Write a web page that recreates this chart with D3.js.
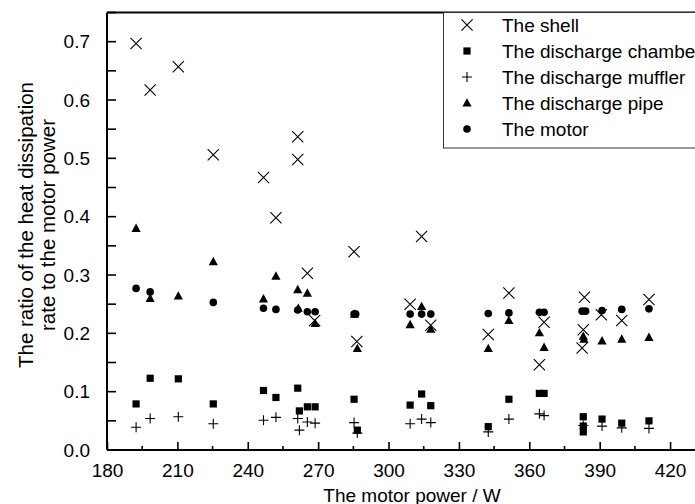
<!DOCTYPE html>
<html>
<head>
<meta charset="utf-8">
<script src="https://cdn.jsdelivr.net/npm/d3@7"></script>
<style>
  html, body { margin: 0; padding: 0; background: #fff; }
  svg { display: block; }
  text { font-family: "Liberation Sans", Arial, sans-serif; fill: #000; }
</style>
</head>
<body>
<svg id="chart" width="695" height="504"></svg>
<script>
// ---- data ----
const shellX = [192.4, 198.4, 210.4, 225.3, 246.7, 252.0, 261.3, 261.3, 265.4, 268.5, 285.3, 286.5, 309.2, 314.1, 318.0, 342.5, 351.3, 364.3, 366.3, 383.5, 383.0, 382.5, 390.7, 399.4, 411.0];
const shellY = [0.697, 0.617, 0.657, 0.506, 0.467, 0.398, 0.537, 0.498, 0.303, 0.222, 0.340, 0.186, 0.250, 0.366, 0.214, 0.198, 0.269, 0.146, 0.219, 0.262, 0.206, 0.175, 0.232, 0.222, 0.258];

const chamberX = [192.4, 198.4, 210.4, 225.3, 246.7, 252.0, 261.3, 262.0, 265.4, 268.7, 285.3, 286.7, 309.2, 314.1, 318.0, 342.5, 351.3, 364.3, 366.3, 383.0, 383.0, 383.0, 391.0, 399.4, 411.0];
const chamberY = [0.079, 0.123, 0.122, 0.079, 0.102, 0.090, 0.106, 0.067, 0.074, 0.074, 0.087, 0.034, 0.077, 0.096, 0.076, 0.040, 0.087, 0.097, 0.097, 0.057, 0.041, 0.031, 0.053, 0.046, 0.050];

const mufflerX = [192.4, 198.4, 210.4, 225.3, 246.7, 252.0, 261.3, 262.0, 265.4, 268.7, 285.3, 286.7, 309.2, 314.1, 318.0, 342.5, 351.3, 364.3, 366.3, 383.0, 391.0, 399.4, 411.0];
const mufflerY = [0.039, 0.054, 0.057, 0.045, 0.051, 0.056, 0.054, 0.034, 0.048, 0.046, 0.047, 0.029, 0.045, 0.053, 0.047, 0.031, 0.053, 0.062, 0.059, 0.042, 0.041, 0.038, 0.037];

const pipeX = [192.4, 198.4, 210.4, 225.3, 246.7, 252.0, 261.3, 261.5, 265.4, 268.7, 285.5, 286.7, 309.2, 314.1, 318.0, 342.5, 351.3, 364.3, 366.3, 383.0, 383.3, 391.0, 399.4, 411.0];
const pipeY = [0.380, 0.260, 0.264, 0.323, 0.259, 0.298, 0.275, 0.243, 0.269, 0.217, 0.233, 0.174, 0.215, 0.246, 0.207, 0.174, 0.222, 0.201, 0.176, 0.195, 0.190, 0.187, 0.190, 0.193];

const motorX = [192.4, 198.4, 225.3, 246.7, 252.0, 261.3, 265.4, 268.7, 285.3, 286.0, 309.2, 314.1, 318.0, 342.5, 351.3, 364.3, 366.3, 382.5, 384.0, 391.0, 399.4, 411.0];
const motorY = [0.277, 0.271, 0.253, 0.243, 0.241, 0.240, 0.237, 0.237, 0.233, 0.233, 0.233, 0.233, 0.233, 0.234, 0.235, 0.236, 0.236, 0.238, 0.238, 0.239, 0.241, 0.242];

const seriesNames = ["The shell", "The discharge chamber", "The discharge muffler", "The discharge pipe", "The motor"];
const xTickValues = [180, 210, 240, 270, 300, 330, 360, 390, 420];
const yTickValues = [0.0, 0.1, 0.2, 0.3, 0.4, 0.5, 0.6, 0.7];
const xTitle = "The motor power / W";
const yTitleLines = ["The ratio of the heat dissipation", "rate to the motor power"];

// ---- layout ----
const svg = d3.select("#chart");
const pL = 107, pR = 717, pT = 12.5, pB = 450;
const x = d3.scaleLinear().domain([180, 440]).range([pL, pR]);
const y = d3.scaleLinear().domain([0, 0.75]).range([pB, pT]);
const FS = 19;

// frame (top + right borders)
svg.append("line").attr("x1", pL).attr("x2", pR).attr("y1", pT).attr("y2", pT)
  .attr("stroke", "#000").attr("stroke-width", 2);
svg.append("line").attr("x1", pR).attr("x2", pR).attr("y1", pT).attr("y2", pB)
  .attr("stroke", "#000").attr("stroke-width", 2);

// bottom axis: major + minor ticks, inward
const xMinor = d3.range(180, 441, 15).filter(v => v % 30 !== 0);
const gx = svg.append("g").attr("transform", `translate(0,${pB})`);
gx.call(d3.axisBottom(x).tickValues(xTickValues).tickSizeInner(-8).tickSizeOuter(0).tickPadding(14).tickFormat(d3.format("d")));
gx.select(".domain").attr("stroke-width", 2).attr("d", `M${pL},0H${pR}`);
gx.selectAll(".tick line").attr("stroke-width", 1.6);
gx.selectAll(".tick text").attr("font-size", FS).attr("font-family", "Liberation Sans, Arial, sans-serif").attr("dy", "0.71em");
gx.selectAll(".minor").data(xMinor).enter().append("line")
  .attr("x1", d => x(d)).attr("x2", d => x(d)).attr("y1", 0).attr("y2", -4)
  .attr("stroke", "#000").attr("stroke-width", 1.6);

// left axis: ticks every 0.05 inward, labels every 0.1
const yAllTicks = d3.range(0, 0.751, 0.05);
const gy = svg.append("g").attr("transform", `translate(${pL},0)`);
gy.call(d3.axisLeft(y).tickValues(yTickValues).tickSize(0).tickPadding(17).tickFormat(d3.format(".1f")));
gy.select(".domain").attr("stroke-width", 2).attr("d", `M0,${pB}V${pT}`);
gy.selectAll(".tick text").attr("font-size", FS).attr("font-family", "Liberation Sans, Arial, sans-serif");
gy.selectAll(".ytk").data(yAllTicks).enter().append("line")
  .attr("x1", 0).attr("x2", 9).attr("y1", d => y(d)).attr("y2", d => y(d))
  .attr("stroke", "#000").attr("stroke-width", 1.6);

// axis titles
svg.append("text").attr("x", (pL + pR) / 2).attr("y", 502).attr("text-anchor", "middle")
  .attr("font-size", FS).text(xTitle);
const yt = svg.append("text").attr("transform", `translate(0,225) rotate(-90)`)
  .attr("text-anchor", "middle").attr("font-size", 20.5);
yt.append("tspan").attr("x", 0).attr("y", 32.5).text(yTitleLines[0]);
yt.append("tspan").attr("x", 0).attr("y", 55).text(yTitleLines[1]);

// marker drawing
function drawMarker(g, kind, cx, cy) {
  if (kind === 0) { // X
    const s = 5.6;
    g.append("path").attr("d", `M${cx - s},${cy - s}L${cx + s},${cy + s}M${cx - s},${cy + s}L${cx + s},${cy - s}`)
      .attr("stroke", "#000").attr("stroke-width", 1.1).attr("fill", "none");
  } else if (kind === 1) { // square
    g.append("rect").attr("x", cx - 3.6).attr("y", cy - 3.6).attr("width", 7.2).attr("height", 7.2).attr("fill", "#000");
  } else if (kind === 2) { // plus
    const s = 5;
    g.append("path").attr("d", `M${cx - s},${cy}L${cx + s},${cy}M${cx},${cy - s}L${cx},${cy + s}`)
      .attr("stroke", "#000").attr("stroke-width", 1.1).attr("fill", "none");
  } else if (kind === 3) { // triangle
    g.append("path").attr("d", `M${cx},${cy - 4.8}L${cx + 4.6},${cy + 3.6}L${cx - 4.6},${cy + 3.6}Z`).attr("fill", "#000");
  } else { // circle
    g.append("circle").attr("cx", cx).attr("cy", cy).attr("r", 3.8).attr("fill", "#000");
  }
}

const series = [
  [shellX, shellY], [chamberX, chamberY], [mufflerX, mufflerY], [pipeX, pipeY], [motorX, motorY]
];
const plot = svg.append("g");
series.forEach(([xs, ys], k) => {
  const g = plot.append("g").attr("class", "series-" + k);
  xs.forEach((xv, i) => drawMarker(g, k, x(xv), y(ys[i])));
});

// legend
const legX = 443.5, legY = pT, legW = 300, legH = 148 - pT;
svg.append("rect").attr("x", legX).attr("y", legY).attr("width", legW).attr("height", legH)
  .attr("fill", "#fff").attr("stroke", "#333").attr("stroke-width", 1);
const rowY = [25, 51, 77, 103, 129];
seriesNames.forEach((name, k) => {
  const g = svg.append("g");
  drawMarker(g, k, 467, rowY[k]);
  svg.append("text").attr("x", 502).attr("y", rowY[k] + 7).attr("font-size", FS).text(name);
});
</script>
</body>
</html>
